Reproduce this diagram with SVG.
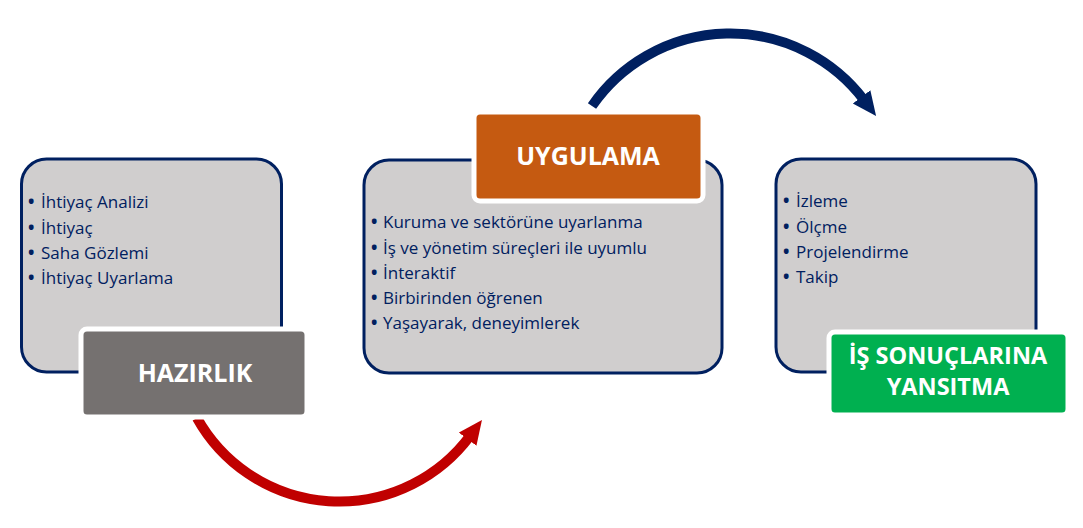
<svg xmlns="http://www.w3.org/2000/svg" width="1083" height="528" viewBox="0 0 1083 528">
<style>
.box{fill:#D0CECE;stroke:#002060;stroke-width:3}
.lbl{stroke:#FFFFFF;stroke-width:5}
.bul{font-family:"Open Sans","Liberation Sans",sans-serif;font-size:17px;fill:#002060}
.dot{font-weight:bold}
.ttl{font-family:"Open Sans","Liberation Sans",sans-serif;font-size:25px;font-weight:bold;fill:#FFFFFF;text-anchor:middle}
.ttl2{font-size:23.5px}
.arc{fill:none;stroke-width:10}
</style>
<defs>
<marker id="headRed" markerUnits="userSpaceOnUse" markerWidth="30" markerHeight="30" refX="4" refY="11" orient="auto">
<polygon points="0,0 24,11 0,22" fill="#C00000"/>
</marker>
<marker id="headBlue" markerUnits="userSpaceOnUse" markerWidth="30" markerHeight="30" refX="4" refY="11" orient="auto">
<polygon points="0,0 24,11 0,22" fill="#002060"/>
</marker>
</defs>
<g id="connectors">
<path class="arc" stroke="#C00000" d="M 197 418 A 163 163 0 0 0 470 436" marker-end="url(#headRed)"/>
<path class="arc" stroke="#002060" d="M 592 106 A 168 168 0 0 1 864 100" marker-end="url(#headBlue)"/>
</g>
<g id="hazirlik">
<rect class="box" x="21.5" y="159" width="260" height="213" rx="25"/>
<text class="bul" y="208"><tspan class="dot" x="28">•</tspan><tspan x="41">İhtiyaç Analizi</tspan></text>
<text class="bul" y="234"><tspan class="dot" x="28">•</tspan><tspan x="41">İhtiyaç</tspan></text>
<text class="bul" y="259"><tspan class="dot" x="28">•</tspan><tspan x="41">Saha Gözlemi</tspan></text>
<text class="bul" y="284"><tspan class="dot" x="28">•</tspan><tspan x="41">İhtiyaç Uyarlama</tspan></text>
<rect class="lbl" x="81" y="329" width="226" height="88" rx="6" fill="#757170"/>
<text class="ttl" x="195" y="382">HAZIRLIK</text>
</g>
<g id="uygulama">
<rect class="box" x="364" y="160" width="358" height="213" rx="25"/>
<text class="bul" y="228"><tspan class="dot" x="371">•</tspan><tspan x="383">Kuruma ve sektörüne uyarlanma</tspan></text>
<text class="bul" y="254"><tspan class="dot" x="371">•</tspan><tspan x="383">İş ve yönetim süreçleri ile uyumlu</tspan></text>
<text class="bul" y="279"><tspan class="dot" x="371">•</tspan><tspan x="383">İnteraktif</tspan></text>
<text class="bul" y="304"><tspan class="dot" x="371">•</tspan><tspan x="383">Birbirinden öğrenen</tspan></text>
<text class="bul" y="329"><tspan class="dot" x="371">•</tspan><tspan x="383">Yaşayarak, deneyimlerek</tspan></text>
<rect class="lbl" x="474" y="112" width="229" height="89" rx="6" fill="#C55A11"/>
<text class="ttl" x="588" y="165">UYGULAMA</text>
</g>
<g id="is-sonuclarina">
<rect class="box" x="776" y="159" width="260" height="213" rx="25"/>
<text class="bul" y="207"><tspan class="dot" x="783">•</tspan><tspan x="796">İzleme</tspan></text>
<text class="bul" y="233"><tspan class="dot" x="783">•</tspan><tspan x="796">Ölçme</tspan></text>
<text class="bul" y="258"><tspan class="dot" x="783">•</tspan><tspan x="796">Projelendirme</tspan></text>
<text class="bul" y="283"><tspan class="dot" x="783">•</tspan><tspan x="796">Takip</tspan></text>
<rect class="lbl" x="829" y="332" width="239" height="83" rx="6" fill="#00B050"/>
<text class="ttl ttl2" x="948" y="364">İŞ SONUÇLARINA</text>
<text class="ttl ttl2" x="948" y="395">YANSITMA</text>
</g>
</svg>
